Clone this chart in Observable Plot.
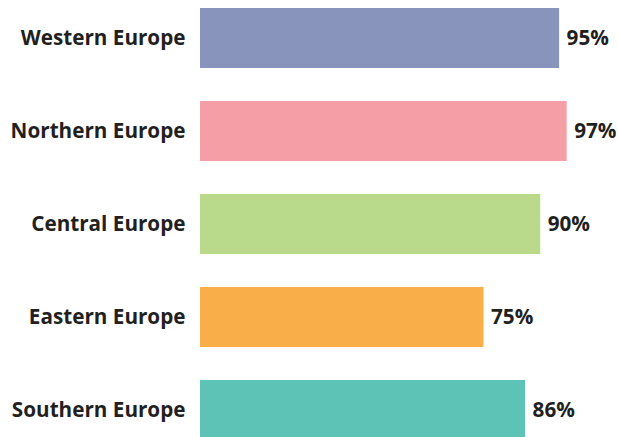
<!DOCTYPE html>
<html>
<head>
<meta charset="utf-8">
<script src="https://cdn.jsdelivr.net/npm/d3@7"></script>
<script src="https://cdn.jsdelivr.net/npm/@observablehq/plot@0.6"></script>
<style>
  html, body { margin: 0; padding: 0; background: #fff; }
</style>
</head>
<body>
<div id="chart"></div>
<script>
const regions = ["Western Europe", "Northern Europe", "Central Europe", "Eastern Europe", "Southern Europe"];
const shares = [95, 97, 90, 75, 86];
const colors = ["#8994bd", "#f59ea6", "#b9da8a", "#f9ae4a", "#5ec3b7"];

const data = regions.map((r, i) => ({region: r, value: shares[i], color: colors[i]}));

const chart = Plot.plot({
  width: 618,
  height: 437,
  marginLeft: 200,
  marginRight: 40,
  marginTop: 0,
  marginBottom: 0,
  style: {fontFamily: "'Open Sans', sans-serif", fontSize: "20.7px", fontWeight: 700, color: "#231f20", background: "#fff"},
  x: {domain: [0, 100], range: [200, 578], axis: null},
  y: {domain: regions, range: [8, 440], paddingInner: 0.355, paddingOuter: 0, label: null},
  marks: [
    Plot.barX(data, {y: "region", x: "value", fill: "color"}),
    Plot.text(data, {y: "region", x: "value", text: d => d.value + "%", textAnchor: "start", dx: 7, fontSize: 20.7, fontWeight: 700, fill: "#231f20"}),
    Plot.axisY({tickSize: 0, tickPadding: 15, fontSize: 20.7, fontWeight: 700, label: null})
  ]
});
document.getElementById("chart").appendChild(chart);
</script>
</body>
</html>
